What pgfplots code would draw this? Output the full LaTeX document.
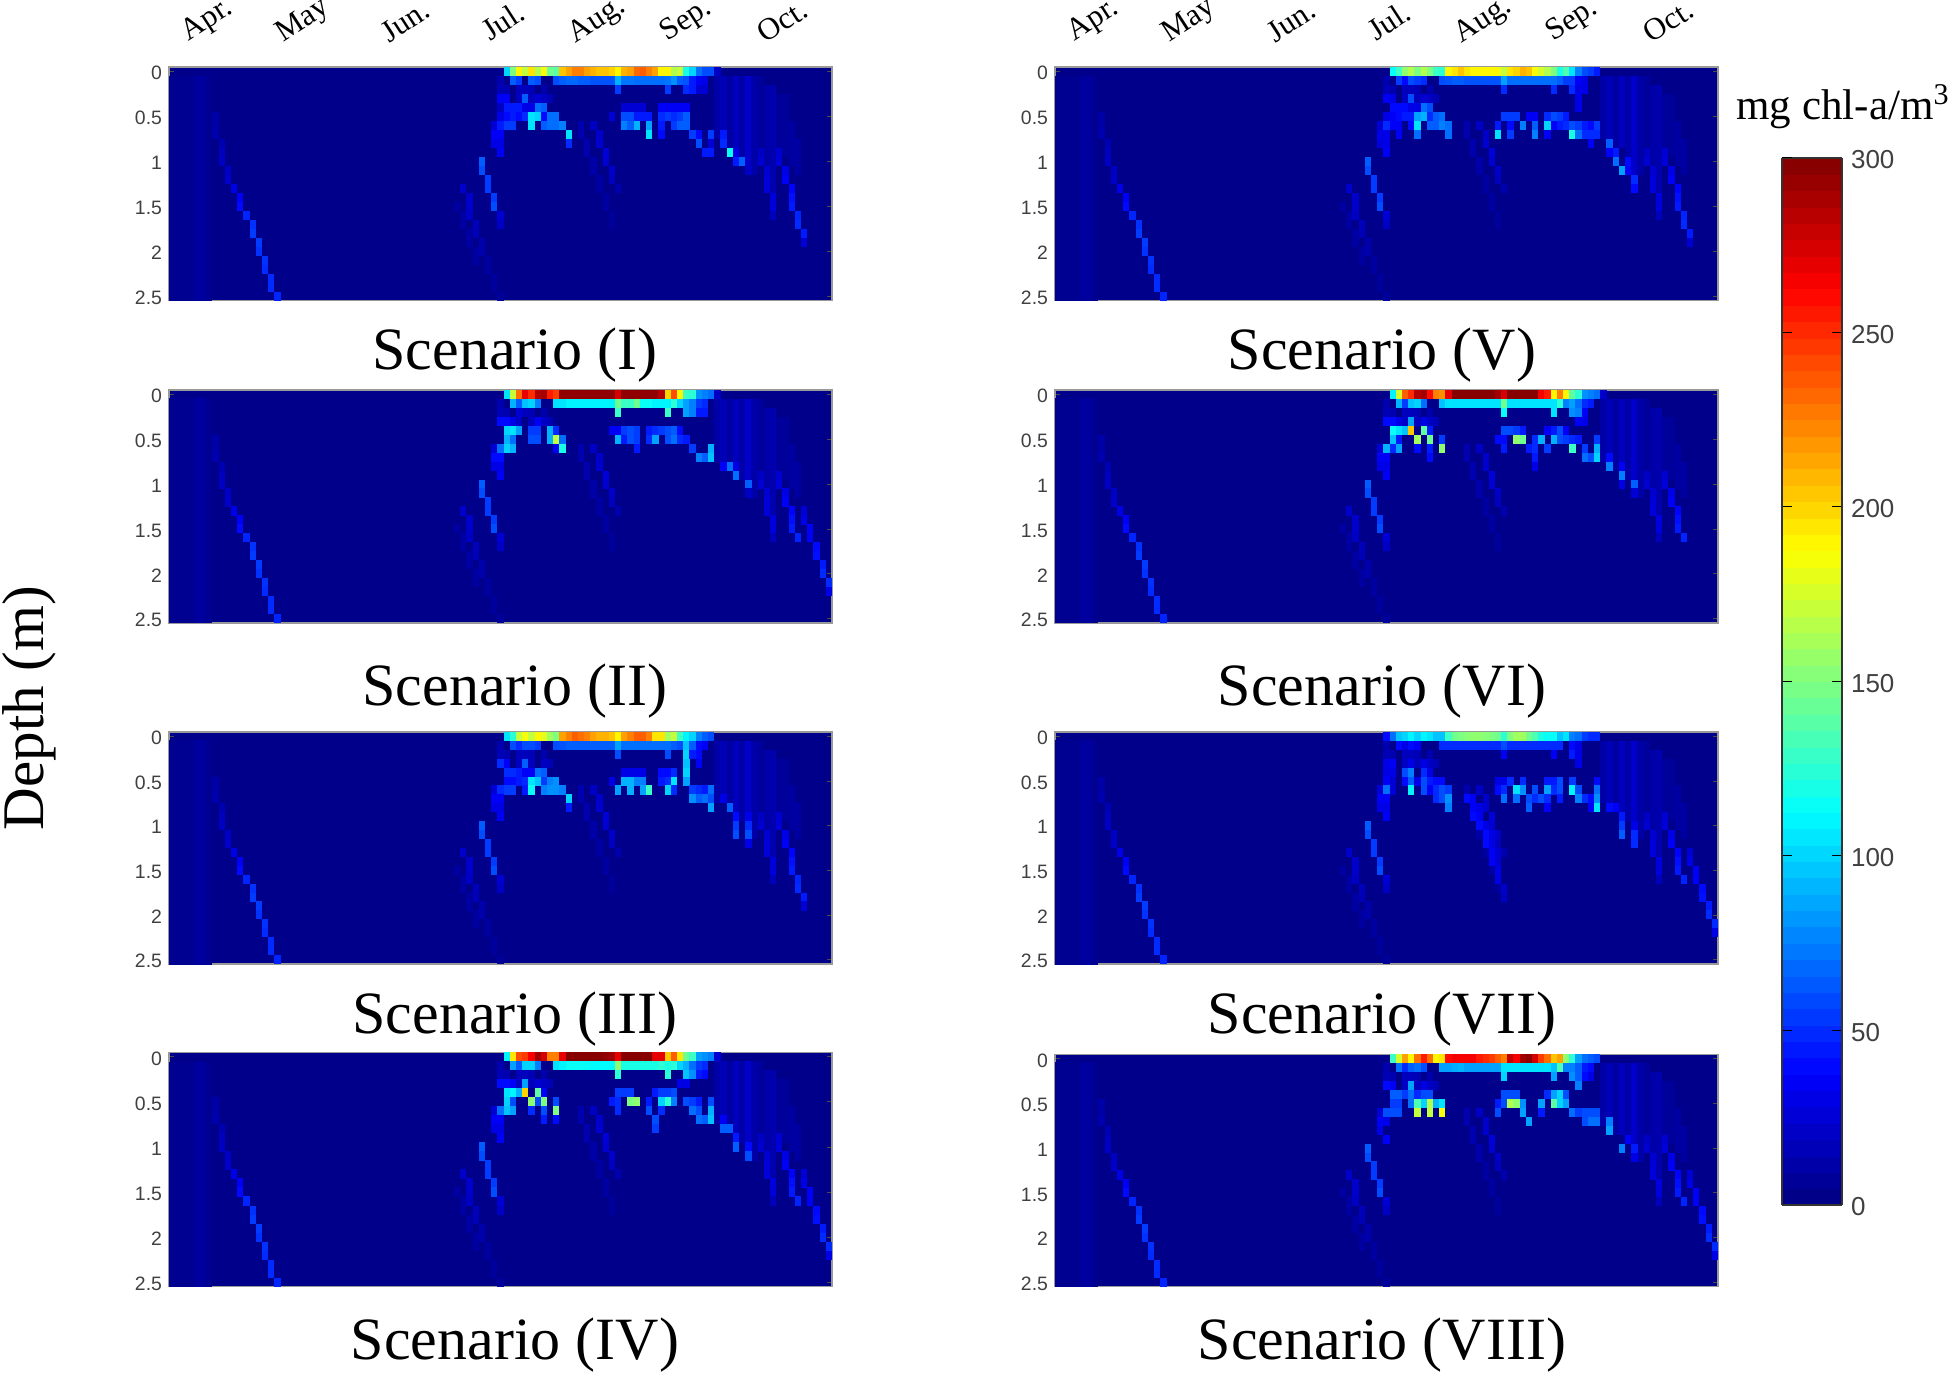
\documentclass[border=0pt]{standalone}
\usepackage{pgfplots}
\usepackage{pgfplotstable}
\usepackage{fontspec}
\pgfplotsset{compat=1.18}
\setmainfont{Liberation Serif}
\newfontfamily\ticksf{Liberation Sans}
\usetikzlibrary{plotmarks}
\definecolor{bgblue}{RGB}{0,0,139}
\definecolor{ticklab}{gray}{0.25}
\pgfdeclareplotmark{cell}{\pgfpathrectangle{\pgfpoint{-1.575pt}{-2.28pt}}{\pgfpoint{3.15pt}{4.56pt}}\pgfusepathqfill}
\pgfdeclareplotmark{tallcell}{\pgfpathrectangle{\pgfpoint{-1.575pt}{-56.25pt}}{\pgfpoint{3.15pt}{112.5pt}}\pgfusepathqfill}

\pgfplotstableread[row sep=\\]{
c d v\\
0 1.3 5\\1 1.3 5\\2 1.3 5\\3 1.3 5\\4 1.3 9\\5 1.3 9\\6 1.3 5\\
}\tblBand

% shared weak structures: c = two-day column, d = depth (m), v = mg chl-a/m3
\pgfplotstableread[row sep=\\]{
c d v\\
7 0.5 12\\7 0.6 12\\7 0.7 14\\8 0.8 15\\8 0.9 18\\8 1.0 20\\9 1.1 20\\9 1.2 22\\10 1.3 30\\11 1.4 35\\11 1.5 40\\12 1.6 48\\13 1.7 52\\13 1.8 55\\14 1.9 55\\14 2.0 52\\15 2.1 52\\15 2.2 50\\16 2.3 50\\16 2.4 50\\17 2.5 48\\
46 1.5 10\\47 1.6 10\\47 1.7 10\\48 1.8 10\\48 1.9 10\\49 2.0 10\\49 2.1 10\\
47 1.3 22\\48 1.4 22\\48 1.5 22\\48 1.6 20\\49 1.7 18\\49 1.8 16\\50 1.9 13\\50 2.0 13\\51 2.1 10\\51 2.2 10\\52 2.3 9\\52 2.4 8\\53 2.5 8\\
52 0.6 25\\53 0.6 30\\52 0.7 30\\53 0.7 35\\52 0.8 28\\53 0.9 35\\
50 1.0 65\\50 1.1 60\\51 1.2 55\\51 1.3 55\\52 1.4 55\\52 1.5 60\\53 1.6 25\\53 1.7 20\\
53 0.1 14\\53 0.2 16\\54 0.2 14\\56 0.2 18\\57 0.2 18\\58 0.2 16\\60 0.2 14\\56 0.3 20\\58 0.3 18\\60 0.3 20\\61 0.3 16\\
66 0.6 14\\66 0.7 14\\67 0.8 14\\67 0.9 14\\68 1.0 12\\68 1.1 12\\69 1.2 10\\69 1.3 10\\70 1.4 10\\70 1.5 10\\71 1.6 8\\71 1.7 8\\
68 0.6 20\\69 0.7 22\\69 0.8 24\\70 0.9 26\\70 1.0 24\\71 1.1 22\\71 1.2 18\\72 1.3 14\\
88 0.1 12\\88 0.2 12\\88 0.3 12\\88 0.4 12\\88 0.5 12\\88 0.6 12\\88 0.7 12\\
89 0.1 16\\89 0.2 16\\89 0.3 16\\89 0.4 16\\89 0.5 16\\89 0.6 16\\89 0.7 16\\
90 0.1 10\\90 0.2 10\\90 0.3 10\\90 0.4 10\\90 0.5 10\\90 0.6 10\\90 0.7 10\\90 0.8 10\\
91 0.1 18\\91 0.2 18\\91 0.3 18\\91 0.4 18\\91 0.5 18\\91 0.6 18\\91 0.7 18\\91 0.8 18\\
92 0.1 12\\92 0.2 12\\92 0.3 12\\92 0.4 12\\92 0.5 12\\92 0.6 12\\92 0.7 12\\92 0.8 12\\92 0.9 12\\
93 0.1 22\\93 0.2 22\\93 0.3 22\\93 0.4 22\\93 0.5 22\\93 0.6 22\\93 0.7 22\\93 0.8 22\\93 0.9 22\\93 1.0 22\\93 1.1 22\\
94 0.1 12\\94 0.2 12\\94 0.3 12\\94 0.4 12\\94 0.5 12\\94 0.6 12\\94 0.7 12\\94 0.8 12\\94 0.9 12\\94 1.0 12\\94 1.1 12\\
95 0.1 8\\95 0.2 8\\95 0.3 8\\95 0.4 8\\95 0.5 8\\95 0.6 8\\95 0.7 8\\95 0.8 8\\
96 0.2 12\\96 0.3 12\\96 0.4 12\\96 0.5 12\\96 0.6 12\\96 0.7 12\\96 0.8 12\\96 0.9 12\\96 1.0 12\\
97 0.2 14\\97 0.3 14\\97 0.4 14\\97 0.5 14\\97 0.6 14\\97 0.7 14\\97 0.8 14\\97 0.9 14\\97 1.0 14\\97 1.1 14\\97 1.2 14\\97 1.3 14\\
98 0.3 8\\98 0.4 8\\98 0.5 8\\98 0.6 8\\98 0.7 8\\98 0.8 8\\
99 0.3 8\\99 0.4 8\\99 0.5 8\\99 0.6 8\\99 0.7 8\\99 0.8 8\\99 0.9 8\\
100 0.6 10\\100 0.7 10\\100 0.8 10\\100 0.9 10\\100 1.0 10\\101 0.8 10\\101 0.9 10\\101 1.0 10\\101 1.1 10\\
95 0.9 20\\95 1.0 24\\96 1.1 24\\96 1.2 26\\96 1.3 26\\97 1.4 28\\97 1.5 26\\97 1.6 18\\
98 0.9 24\\98 1.0 26\\99 1.1 30\\99 1.2 35\\100 1.3 38\\100 1.4 42\\100 1.5 45\\101 1.6 48\\
}\tblCommon
\pgfplotstableread[row sep=\\]{
c d v\\
101 1.7 50\\102 1.8 45\\102 1.9 25\\
}\tblSAx
\pgfplotstableread[row sep=\\]{
c d v\\
102 1.3 25\\102 1.4 30\\103 1.5 35\\103 1.6 35\\104 1.7 40\\104 1.8 42\\105 1.9 45\\105 2.0 50\\106 2.1 50\\106 2.2 30\\
}\tblSB

% Scenario (I)
\pgfplotstableread[row sep=\\]{
c d v\\
54 0 100\\55 0 150\\56 0 190\\57 0 170\\58 0 195\\59 0 165\\60 0 185\\61 0 145\\62 0 140\\63 0 205\\64 0 215\\65 0 225\\66 0 225\\67 0 215\\68 0 210\\69 0 205\\70 0 205\\71 0 200\\72 0 190\\73 0 210\\74 0 215\\75 0 232\\76 0 235\\77 0 225\\78 0 215\\79 0 190\\80 0 190\\81 0 165\\82 0 170\\83 0 120\\84 0 100\\85 0 70\\86 0 60\\87 0 60\\88 0 20\\
55 0.1 65\\56 0.1 55\\58 0.1 65\\59 0.1 60\\62 0.1 60\\63 0.1 65\\64 0.1 68\\65 0.1 68\\66 0.1 65\\67 0.1 65\\68 0.1 62\\69 0.1 62\\70 0.1 62\\71 0.1 62\\72 0.1 90\\73 0.1 72\\74 0.1 72\\75 0.1 70\\76 0.1 70\\77 0.1 70\\78 0.1 70\\79 0.1 70\\80 0.1 72\\81 0.1 80\\82 0.1 65\\83 0.1 62\\84 0.1 45\\85 0.1 35\\86 0.1 30\\
72 0.2 55\\80 0.2 55\\83 0.2 50\\84 0.2 45\\85 0.2 25\\86 0.2 25\\
53 0.3 35\\54 0.3 35\\57 0.3 65\\59 0.3 25\\
53 0.4 20\\54 0.4 45\\55 0.4 45\\56 0.4 45\\57 0.4 30\\58 0.4 30\\59 0.4 70\\60 0.4 65\\73 0.4 25\\74 0.4 25\\75 0.4 25\\76 0.4 25\\79 0.4 35\\80 0.4 35\\81 0.4 35\\82 0.4 35\\83 0.4 35\\
53 0.5 30\\54 0.5 40\\55 0.5 45\\56 0.5 40\\57 0.5 50\\58 0.5 105\\59 0.5 100\\60 0.5 40\\61 0.5 70\\62 0.5 70\\71 0.5 25\\73 0.5 60\\74 0.5 60\\75 0.5 45\\76 0.5 45\\77 0.5 45\\79 0.5 50\\80 0.5 55\\81 0.5 50\\82 0.5 55\\83 0.5 65\\
53 0.6 45\\54 0.6 55\\55 0.6 55\\58 0.6 105\\60 0.6 65\\61 0.6 70\\62 0.6 70\\63 0.6 75\\73 0.6 75\\74 0.6 65\\75 0.6 90\\77 0.6 85\\79 0.6 45\\81 0.6 55\\82 0.6 65\\83 0.6 65\\
52 0.7 35\\53 0.7 35\\64 0.7 105\\77 0.7 105\\79 0.7 40\\84 0.7 55\\85 0.7 40\\87 0.7 55\\89 0.7 45\\
52 0.8 30\\53 0.8 30\\64 0.8 50\\85 0.8 60\\87 0.8 25\\89 0.8 50\\
86 0.9 45\\87 0.9 45\\90 0.9 115\\91 0.9 30\\
91 1.0 45\\92 1.0 65\\93 1.1 20\\
}\tblI

% Scenario (II)
\pgfplotstableread[row sep=\\]{
c d v\\
54 0 105\\55 0 170\\56 0 230\\57 0 270\\58 0 250\\59 0 285\\60 0 290\\61 0 255\\62 0 245\\63 0 295\\64 0 295\\65 0 295\\66 0 295\\67 0 295\\68 0 295\\69 0 295\\70 0 295\\71 0 295\\72 0 275\\73 0 295\\74 0 295\\75 0 295\\76 0 295\\77 0 295\\78 0 295\\79 0 285\\80 0 200\\81 0 240\\82 0 190\\83 0 130\\84 0 125\\85 0 80\\86 0 75\\87 0 70\\88 0 20\\
55 0.1 90\\56 0.1 65\\57 0.1 95\\58 0.1 100\\59 0.1 75\\62 0.1 105\\63 0.1 105\\64 0.1 110\\65 0.1 110\\66 0.1 110\\67 0.1 110\\68 0.1 110\\69 0.1 110\\70 0.1 110\\71 0.1 110\\72 0.1 145\\73 0.1 130\\74 0.1 130\\75 0.1 145\\76 0.1 115\\77 0.1 115\\78 0.1 110\\79 0.1 110\\80 0.1 110\\81 0.1 125\\82 0.1 100\\83 0.1 85\\84 0.1 75\\85 0.1 55\\86 0.1 50\\
56 0.2 25\\72 0.2 130\\80 0.2 130\\83 0.2 85\\84 0.2 75\\85 0.2 45\\86 0.2 45\\
53 0.3 40\\54 0.3 40\\55 0.3 30\\59 0.3 35\\
54 0.4 100\\55 0.4 105\\56 0.4 85\\58 0.4 55\\59 0.4 55\\61 0.4 90\\62 0.4 50\\71 0.4 35\\72 0.4 35\\73 0.4 55\\74 0.4 60\\75 0.4 55\\77 0.4 45\\78 0.4 50\\79 0.4 55\\80 0.4 60\\81 0.4 65\\82 0.4 40\\
54 0.5 90\\55 0.5 70\\58 0.5 60\\59 0.5 60\\61 0.5 90\\62 0.5 170\\63 0.5 70\\72 0.5 90\\73 0.5 45\\74 0.5 60\\75 0.5 55\\77 0.5 50\\78 0.5 85\\80 0.5 60\\81 0.5 70\\82 0.5 50\\83 0.5 45\\
53 0.6 70\\54 0.6 100\\55 0.6 90\\62 0.6 35\\63 0.6 120\\75 0.6 45\\84 0.6 55\\87 0.6 90\\
52 0.7 40\\53 0.7 40\\85 0.7 75\\86 0.7 65\\87 0.7 95\\
52 0.8 30\\53 0.8 30\\89 0.8 35\\90 0.8 70\\91 0.8 30\\
91 0.9 70\\93 1.0 65\\93 1.1 20\\
}\tblII

% Scenario (III)
\pgfplotstableread[row sep=\\]{
c d v\\
54 0 105\\55 0 125\\56 0 170\\57 0 185\\58 0 170\\59 0 190\\60 0 180\\61 0 160\\62 0 150\\63 0 215\\64 0 225\\65 0 235\\66 0 230\\67 0 225\\68 0 215\\69 0 210\\70 0 210\\71 0 205\\72 0 190\\73 0 215\\74 0 225\\75 0 235\\76 0 235\\77 0 225\\78 0 195\\79 0 195\\80 0 160\\81 0 170\\82 0 130\\83 0 110\\84 0 100\\85 0 75\\86 0 65\\87 0 60\\
55 0.1 60\\56 0.1 50\\57 0.1 60\\58 0.1 60\\59 0.1 55\\62 0.1 60\\63 0.1 62\\64 0.1 65\\65 0.1 65\\66 0.1 65\\67 0.1 65\\68 0.1 65\\69 0.1 65\\70 0.1 65\\71 0.1 65\\72 0.1 85\\73 0.1 70\\74 0.1 70\\75 0.1 70\\76 0.1 70\\77 0.1 70\\78 0.1 70\\79 0.1 70\\80 0.1 70\\81 0.1 65\\82 0.1 60\\83 0.1 95\\84 0.1 65\\85 0.1 40\\86 0.1 35\\
72 0.2 60\\80 0.2 60\\83 0.2 100\\84 0.2 45\\85 0.2 40\\
53 0.3 50\\54 0.3 35\\57 0.3 65\\83 0.3 95\\85 0.3 35\\
54 0.4 50\\55 0.4 50\\56 0.4 45\\57 0.4 35\\58 0.4 35\\59 0.4 70\\60 0.4 65\\73 0.4 30\\74 0.4 30\\75 0.4 30\\76 0.4 30\\79 0.4 40\\80 0.4 40\\81 0.4 50\\83 0.4 100\\
54 0.5 40\\55 0.5 40\\56 0.5 45\\57 0.5 50\\58 0.5 105\\59 0.5 95\\60 0.5 55\\61 0.5 75\\62 0.5 80\\71 0.5 30\\73 0.5 90\\74 0.5 90\\75 0.5 75\\76 0.5 75\\79 0.5 45\\80 0.5 50\\81 0.5 105\\83 0.5 85\\
53 0.6 50\\54 0.6 55\\55 0.6 55\\57 0.6 45\\58 0.6 115\\60 0.6 75\\61 0.6 80\\62 0.6 80\\63 0.6 75\\72 0.6 85\\74 0.6 90\\76 0.6 85\\77 0.6 130\\80 0.6 100\\81 0.6 50\\84 0.6 55\\85 0.6 50\\86 0.6 45\\87 0.6 70\\
52 0.7 35\\53 0.7 35\\64 0.7 100\\84 0.7 80\\85 0.7 65\\86 0.7 70\\87 0.7 60\\89 0.7 30\\
52 0.8 30\\53 0.8 30\\64 0.8 45\\87 0.8 85\\90 0.8 65\\
91 0.9 40\\93 0.9 30\\91 1.0 55\\93 1.0 50\\91 1.1 60\\93 1.1 60\\93 1.2 30\\
}\tblIII

% Scenario (IV)
\pgfplotstableread[row sep=\\]{
c d v\\
54 0 110\\55 0 195\\56 0 240\\57 0 245\\58 0 265\\59 0 290\\60 0 275\\61 0 225\\62 0 225\\63 0 270\\64 0 298\\65 0 298\\66 0 298\\67 0 298\\68 0 298\\69 0 298\\70 0 295\\71 0 290\\72 0 270\\73 0 298\\74 0 298\\75 0 298\\76 0 298\\77 0 298\\78 0 270\\79 0 270\\80 0 205\\81 0 235\\82 0 195\\83 0 145\\84 0 130\\85 0 85\\86 0 80\\87 0 75\\88 0 25\\
55 0.1 85\\56 0.1 65\\57 0.1 100\\58 0.1 100\\59 0.1 75\\62 0.1 105\\63 0.1 110\\64 0.1 115\\65 0.1 115\\66 0.1 115\\67 0.1 115\\68 0.1 112\\69 0.1 112\\70 0.1 112\\71 0.1 112\\72 0.1 155\\73 0.1 120\\74 0.1 120\\75 0.1 120\\76 0.1 120\\77 0.1 120\\78 0.1 120\\79 0.1 125\\80 0.1 120\\81 0.1 125\\82 0.1 100\\83 0.1 90\\84 0.1 70\\85 0.1 55\\86 0.1 50\\
72 0.2 125\\80 0.2 125\\83 0.2 95\\84 0.2 80\\85 0.2 45\\86 0.2 40\\
53 0.3 40\\54 0.3 40\\55 0.3 35\\57 0.3 85\\59 0.3 25\\82 0.3 30\\83 0.3 30\\
54 0.4 105\\55 0.4 110\\56 0.4 90\\57 0.4 200\\59 0.4 140\\60 0.4 35\\72 0.4 55\\73 0.4 55\\74 0.4 55\\78 0.4 45\\79 0.4 55\\80 0.4 55\\81 0.4 60\\
54 0.5 100\\55 0.5 60\\58 0.5 155\\59 0.5 60\\60 0.5 150\\62 0.5 60\\71 0.5 45\\72 0.5 50\\74 0.5 150\\75 0.5 155\\77 0.5 45\\79 0.5 100\\80 0.5 125\\81 0.5 75\\83 0.5 60\\84 0.5 55\\85 0.5 45\\87 0.5 60\\
53 0.6 70\\54 0.6 95\\55 0.6 85\\58 0.6 50\\60 0.6 60\\62 0.6 150\\72 0.6 50\\77 0.6 60\\79 0.6 50\\84 0.6 70\\85 0.6 60\\87 0.6 90\\
52 0.7 35\\53 0.7 35\\60 0.7 45\\62 0.7 40\\78 0.7 60\\85 0.7 70\\86 0.7 65\\87 0.7 95\\89 0.7 35\\
52 0.8 30\\53 0.8 30\\78 0.8 55\\89 0.8 65\\90 0.8 65\\
91 0.9 45\\91 1.0 65\\93 1.0 40\\93 1.1 60\\
}\tblIV

% Scenario (V)
\pgfplotstableread[row sep=\\]{
c d v\\
54 0 115\\55 0 130\\56 0 155\\57 0 165\\58 0 150\\59 0 165\\60 0 150\\61 0 130\\62 0 125\\63 0 190\\64 0 195\\65 0 205\\66 0 195\\67 0 190\\68 0 190\\69 0 190\\70 0 190\\71 0 190\\72 0 170\\73 0 195\\74 0 200\\75 0 210\\76 0 205\\77 0 185\\78 0 175\\79 0 165\\80 0 150\\81 0 120\\82 0 135\\83 0 105\\84 0 75\\85 0 60\\86 0 55\\87 0 45\\
55 0.1 55\\56 0.1 40\\57 0.1 60\\58 0.1 55\\59 0.1 50\\62 0.1 60\\63 0.1 62\\64 0.1 65\\65 0.1 65\\66 0.1 62\\67 0.1 62\\68 0.1 62\\69 0.1 62\\70 0.1 62\\71 0.1 62\\72 0.1 85\\73 0.1 70\\74 0.1 70\\75 0.1 70\\76 0.1 70\\77 0.1 70\\78 0.1 70\\79 0.1 70\\80 0.1 70\\81 0.1 65\\82 0.1 55\\83 0.1 55\\84 0.1 35\\85 0.1 30\\
72 0.2 50\\80 0.2 50\\83 0.2 50\\84 0.2 30\\85 0.2 30\\
53 0.3 35\\54 0.3 30\\57 0.3 60\\59 0.3 25\\84 0.3 30\\
54 0.4 40\\55 0.4 40\\56 0.4 40\\57 0.4 30\\58 0.4 30\\59 0.4 70\\60 0.4 60\\84 0.4 30\\
53 0.5 30\\54 0.5 35\\55 0.5 40\\56 0.5 45\\57 0.5 45\\58 0.5 85\\59 0.5 90\\60 0.5 50\\61 0.5 65\\62 0.5 70\\72 0.5 55\\73 0.5 55\\74 0.5 55\\76 0.5 35\\77 0.5 35\\79 0.5 50\\80 0.5 60\\81 0.5 55\\82 0.5 45\\
53 0.6 50\\54 0.6 35\\55 0.6 35\\57 0.6 40\\58 0.6 105\\60 0.6 65\\61 0.6 65\\62 0.6 75\\63 0.6 70\\71 0.6 45\\73 0.6 40\\75 0.6 75\\77 0.6 65\\79 0.6 100\\80 0.6 35\\81 0.6 45\\82 0.6 50\\83 0.6 60\\84 0.6 55\\85 0.6 45\\86 0.6 40\\87 0.6 55\\
52 0.7 30\\53 0.7 30\\55 0.7 35\\58 0.7 70\\63 0.7 70\\71 0.7 105\\73 0.7 55\\77 0.7 75\\79 0.7 35\\83 0.7 120\\84 0.7 70\\85 0.7 50\\86 0.7 50\\87 0.7 50\\
53 0.8 30\\86 0.8 35\\89 0.8 65\\
89 0.9 35\\90 0.9 45\\90 1.0 70\\92 1.0 40\\91 1.1 85\\92 1.1 35\\93 1.2 50\\93 1.3 40\\
}\tblV

% Scenario (VI)
\pgfplotstableread[row sep=\\]{
c d v\\
54 0 110\\55 0 175\\56 0 235\\57 0 250\\58 0 285\\59 0 290\\60 0 260\\61 0 225\\62 0 220\\63 0 270\\64 0 298\\65 0 298\\66 0 298\\67 0 298\\68 0 298\\69 0 298\\70 0 298\\71 0 290\\72 0 275\\73 0 298\\74 0 298\\75 0 298\\76 0 298\\77 0 298\\78 0 265\\79 0 255\\80 0 190\\81 0 225\\82 0 190\\83 0 140\\84 0 125\\85 0 80\\86 0 75\\87 0 70\\88 0 22\\
55 0.1 90\\56 0.1 55\\57 0.1 95\\58 0.1 100\\59 0.1 70\\62 0.1 95\\63 0.1 105\\64 0.1 105\\65 0.1 105\\66 0.1 105\\67 0.1 105\\68 0.1 105\\69 0.1 105\\70 0.1 105\\71 0.1 105\\72 0.1 145\\73 0.1 105\\74 0.1 105\\75 0.1 105\\76 0.1 105\\77 0.1 105\\78 0.1 105\\79 0.1 105\\80 0.1 105\\81 0.1 125\\82 0.1 75\\83 0.1 85\\84 0.1 70\\85 0.1 50\\86 0.1 45\\
72 0.2 115\\80 0.2 105\\83 0.2 80\\84 0.2 75\\85 0.2 35\\
53 0.3 40\\54 0.3 40\\55 0.3 30\\57 0.3 85\\59 0.3 30\\84 0.3 35\\85 0.3 30\\
54 0.4 115\\55 0.4 105\\56 0.4 95\\57 0.4 205\\59 0.4 140\\60 0.4 45\\72 0.4 60\\73 0.4 60\\74 0.4 55\\75 0.4 45\\79 0.4 35\\80 0.4 45\\81 0.4 60\\82 0.4 35\\
54 0.5 95\\55 0.5 45\\58 0.5 160\\60 0.5 145\\62 0.5 55\\71 0.5 40\\72 0.5 40\\74 0.5 155\\75 0.5 145\\77 0.5 50\\78 0.5 90\\80 0.5 90\\81 0.5 60\\82 0.5 55\\83 0.5 50\\84 0.5 45\\87 0.5 55\\
53 0.6 90\\54 0.6 50\\55 0.6 85\\58 0.6 40\\60 0.6 45\\62 0.6 155\\72 0.6 45\\76 0.6 45\\77 0.6 50\\79 0.6 55\\83 0.6 130\\85 0.6 55\\87 0.6 90\\
52 0.7 35\\53 0.7 35\\60 0.7 40\\77 0.7 45\\85 0.7 70\\86 0.7 60\\87 0.7 100\\89 0.7 40\\
52 0.8 30\\53 0.8 30\\77 0.8 30\\89 0.8 75\\91 0.8 35\\
91 0.9 75\\91 1.0 30\\93 1.0 65\\93 1.1 25\\
}\tblVI

% Scenario (VII)
\pgfplotstableread[row sep=\\]{
c d v\\
53 0 40\\54 0 70\\55 0 95\\56 0 100\\57 0 110\\58 0 100\\59 0 110\\60 0 105\\61 0 95\\62 0 95\\63 0 130\\64 0 145\\65 0 150\\66 0 152\\67 0 155\\68 0 155\\69 0 152\\70 0 150\\71 0 145\\72 0 125\\73 0 150\\74 0 160\\75 0 160\\76 0 145\\77 0 135\\78 0 120\\79 0 115\\80 0 115\\81 0 95\\82 0 105\\83 0 75\\84 0 70\\85 0 55\\86 0 50\\87 0 50\\
55 0.1 40\\56 0.1 30\\57 0.1 40\\58 0.1 35\\62 0.1 50\\63 0.1 50\\64 0.1 50\\65 0.1 50\\66 0.1 50\\67 0.1 50\\68 0.1 50\\69 0.1 50\\70 0.1 50\\71 0.1 50\\72 0.1 60\\73 0.1 50\\74 0.1 50\\75 0.1 50\\76 0.1 50\\77 0.1 50\\78 0.1 50\\79 0.1 50\\80 0.1 50\\81 0.1 50\\83 0.1 40\\84 0.1 30\\
72 0.2 35\\80 0.2 35\\83 0.2 45\\84 0.2 30\\
53 0.3 30\\54 0.3 35\\57 0.3 30\\59 0.3 30\\84 0.3 30\\
53 0.4 30\\54 0.4 30\\56 0.4 60\\57 0.4 75\\59 0.4 50\\60 0.4 30\\
53 0.5 35\\54 0.5 25\\56 0.5 40\\57 0.5 65\\58 0.5 30\\59 0.5 60\\60 0.5 45\\61 0.5 40\\62 0.5 40\\71 0.5 30\\72 0.5 30\\73 0.5 50\\75 0.5 50\\79 0.5 45\\80 0.5 45\\81 0.5 60\\83 0.5 55\\87 0.5 40\\
53 0.6 70\\54 0.6 25\\57 0.6 110\\59 0.6 60\\60 0.6 35\\61 0.6 50\\62 0.6 60\\63 0.6 55\\71 0.6 40\\72 0.6 50\\74 0.6 105\\75 0.6 80\\77 0.6 60\\79 0.6 85\\80 0.6 50\\81 0.6 60\\83 0.6 110\\84 0.6 60\\87 0.6 70\\
52 0.7 35\\53 0.7 35\\61 0.7 50\\62 0.7 60\\63 0.7 80\\66 0.7 40\\67 0.7 35\\72 0.7 70\\74 0.7 70\\76 0.7 60\\77 0.7 50\\78 0.7 60\\79 0.7 50\\81 0.7 45\\84 0.7 75\\85 0.7 50\\86 0.7 40\\87 0.7 80\\
52 0.8 30\\53 0.8 30\\63 0.8 75\\67 0.8 35\\68 0.8 30\\76 0.8 65\\79 0.8 35\\86 0.8 35\\87 0.8 105\\89 0.8 40\\90 0.8 35\\
67 0.9 40\\68 0.9 35\\91 0.9 45\\68 1.0 40\\69 1.0 30\\91 1.0 55\\93 1.0 30\\
69 1.1 40\\70 1.1 30\\91 1.1 65\\93 1.1 50\\69 1.2 40\\70 1.2 30\\93 1.2 50\\
70 1.3 35\\71 1.3 25\\70 1.4 35\\71 1.4 25\\71 1.5 30\\71 1.6 30\\72 1.7 22\\72 1.8 20\\
}\tblVII

% Scenario (VIII)
\pgfplotstableread[row sep=\\]{
c d v\\
54 0 130\\55 0 175\\56 0 215\\57 0 190\\58 0 230\\59 0 255\\60 0 230\\61 0 190\\62 0 195\\63 0 260\\64 0 265\\65 0 265\\66 0 265\\67 0 265\\68 0 255\\69 0 250\\70 0 245\\71 0 235\\72 0 225\\73 0 280\\74 0 265\\75 0 290\\76 0 295\\77 0 275\\78 0 245\\79 0 230\\80 0 205\\81 0 215\\82 0 155\\83 0 125\\84 0 85\\85 0 70\\86 0 65\\87 0 60\\
55 0.1 70\\56 0.1 50\\57 0.1 65\\58 0.1 70\\59 0.1 60\\62 0.1 85\\63 0.1 85\\64 0.1 88\\65 0.1 90\\66 0.1 85\\67 0.1 85\\68 0.1 85\\69 0.1 85\\70 0.1 85\\71 0.1 85\\72 0.1 105\\73 0.1 105\\74 0.1 105\\75 0.1 105\\76 0.1 105\\77 0.1 105\\78 0.1 105\\79 0.1 105\\80 0.1 95\\81 0.1 135\\82 0.1 75\\83 0.1 75\\84 0.1 65\\85 0.1 45\\86 0.1 40\\
72 0.2 100\\80 0.2 85\\83 0.2 80\\84 0.2 65\\85 0.2 40\\86 0.2 30\\
53 0.3 40\\54 0.3 35\\57 0.3 85\\59 0.3 30\\84 0.3 75\\
54 0.4 65\\55 0.4 65\\56 0.4 55\\57 0.4 70\\58 0.4 50\\59 0.4 60\\60 0.4 60\\72 0.4 60\\73 0.4 60\\74 0.4 60\\79 0.4 50\\80 0.4 85\\81 0.4 100\\82 0.4 60\\
54 0.5 55\\55 0.5 55\\57 0.5 70\\58 0.5 135\\59 0.5 100\\60 0.5 165\\61 0.5 90\\62 0.5 105\\71 0.5 45\\72 0.5 60\\73 0.5 165\\74 0.5 155\\75 0.5 80\\78 0.5 85\\80 0.5 140\\81 0.5 100\\82 0.5 85\\
53 0.6 60\\54 0.6 60\\55 0.6 60\\58 0.6 170\\60 0.6 170\\62 0.6 185\\71 0.6 60\\75 0.6 85\\78 0.6 45\\83 0.6 70\\84 0.6 55\\85 0.6 60\\86 0.6 60\\87 0.6 60\\
52 0.7 35\\53 0.7 30\\76 0.7 85\\85 0.7 60\\86 0.7 70\\87 0.7 70\\89 0.7 75\\
52 0.8 30\\89 0.8 85\\92 0.9 35\\91 1.0 75\\93 1.0 45\\93 1.1 30\\
}\tblVIII

\pgfplotsset{
  colormap/jet,
  /pgf/number format/assume math mode=true,
  panel/.style={
    scale only axis, width=331.5pt, anchor=north west,
    xmin=-0.5, xmax=106.5, ymin=-0.05, ymax=2.55, y dir=reverse,
    point meta min=0, point meta max=300,
    axis background/.style={fill=bgblue},
    axis line style={black!40, line width=0.6pt},
    xtick=\empty,
    ytick={0,0.5,1,1.5,2,2.5},
    yticklabels={0,0.5,1,1.5,2,2.5},
    ytick pos=both, yticklabel pos=left,
    tick align=inside, major tick length=2.5pt,
    y tick style={black!70, line width=0.4pt},
    yticklabel style={font=\ticksf\fontsize{9.7}{11}\selectfont, text=ticklab, xshift=0pt, yshift=-0.8pt},
    clip marker paths=true,
  },
  months/.style={
    xtick={5.5,21,37.4,53.2,68.5,82.9,98.3},
    xticklabels={Apr.,May,Jun.,Jul.,Aug.,Sep.,Oct.},
    xticklabel pos=upper, xtick pos=upper, x tick style={draw=none},
    xticklabel style={font=\fontsize{15.5}{18}\selectfont, rotate=33, anchor=center, xshift=13pt, yshift=19pt, text=black},
  },
  cellmap/.style={scatter, only marks, mark=cell, point meta=explicit},
  bandmap/.style={scatter, only marks, mark=tallcell, point meta=explicit},
}
\newcommand\Common{%
  \addplot[bandmap] table[x=c,y=d,meta=v]{\tblBand};
  \addplot[cellmap] table[x=c,y=d,meta=v]{\tblCommon};
}
\newcommand\Panel[6]{%
  \begin{axis}[panel, at={(#1pt,-#2pt)}, height=#3pt, #4]
  \Common
  #6
  \addplot[cellmap] table[x=c,y=d,meta=v]{#5};
  \end{axis}}
\newcommand\Title[3]{\node[font=\fontsize{30}{36}\selectfont, anchor=center] at (#1pt,-#2pt) {#3};}
\newcommand\SAx{\addplot[cellmap] table[x=c,y=d,meta=v]{\tblSAx};}
\newcommand\SB{\addplot[cellmap] table[x=c,y=d,meta=v]{\tblSB};}

\begin{document}
\begin{tikzpicture}
\useasboundingbox (0,0) rectangle (975.5pt,-687pt);
\Panel{84.5}{33.5}{116.85}{months}{\tblI}{\SAx}
\Panel{84.5}{195}{116.5}{}{\tblII}{\SB}
\Panel{84.5}{366}{116}{}{\tblIII}{\SAx}
\Panel{84.5}{526.15}{117.2}{}{\tblIV}{\SB}
\Panel{527.5}{33.5}{116.85}{months,
  colorbar sampled,
  colorbar style={samples=65, at={(1.0965,-3.8695)}, anchor=south west,
    width=30pt, height=523.5pt, scale only axis,
    ytick={0,50,100,150,200,250,300}, yticklabel pos=right,
    yticklabel style={font=\ticksf\fontsize{13}{15}\selectfont, text=ticklab, xshift=1pt, yshift=-1pt},
    tick align=inside, major tick length=5pt,
    y tick style={black, line width=0.5pt},
    axis line style={black!80, line width=0.7pt}}}{\tblV}{\SAx}
\Panel{527.5}{195}{116.5}{}{\tblVI}{}
\Panel{527.5}{366}{116}{}{\tblVII}{\SB}
\Panel{527.5}{527.15}{116.2}{}{\tblVIII}{\SB}
\Title{257.5}{177.5}{Scenario (I)}
\Title{257.5}{345.5}{Scenario (II)}
\Title{257.5}{509.5}{Scenario (III)}
\Title{257.5}{672.5}{Scenario (IV)}
\Title{691}{177.5}{Scenario (V)}
\Title{691}{345.5}{Scenario (VI)}
\Title{691}{509.5}{Scenario (VII)}
\Title{691}{672.5}{Scenario (VIII)}
\node[font=\fontsize{29.5}{36}\selectfont, rotate=90, anchor=center] at (14.5pt,-354pt) {Depth (m)};
\node[font=\fontsize{21.5}{26}\selectfont, anchor=center] at (921.5pt,-53.5pt) {mg chl-a/m\textsuperscript{3}};
\end{tikzpicture}
\end{document}
